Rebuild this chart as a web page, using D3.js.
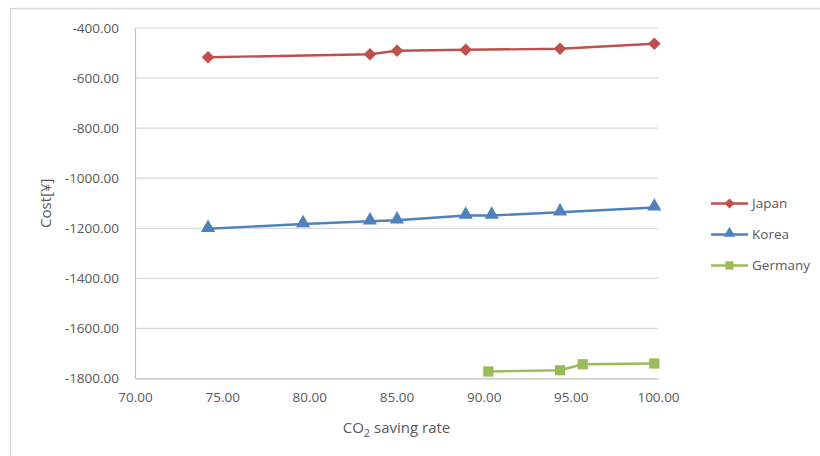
<!DOCTYPE html>
<html>
<head>
<meta charset="utf-8">
<script src="https://cdn.jsdelivr.net/npm/d3@7"></script>
<style>
  html, body { margin: 0; padding: 0; background: #fff; }
  svg { display: block; }
  text { font-family: "Open Sans", "Noto Sans", sans-serif; fill: #595959; }
</style>
</head>
<body>
<svg id="chart" width="820" height="456"></svg>
<script>
// CO2 saving rate (%) and cost for each country
const japanX  = [74.19, 83.48, 85.03, 88.97, 94.38, 99.79];
const japanY  = [-517, -505, -491, -487, -483, -463];

const koreaX  = [74.19, 79.64, 83.48, 85.03, 88.97, 90.46, 94.38, 99.79];
const koreaY  = [-1202, -1183, -1172, -1168, -1149, -1149, -1136, -1117];

const germanyX = [90.27, 94.38, 95.68, 99.79];
const germanyY = [-1772, -1767, -1743, -1740];

const seriesNames = ["Japan", "Korea", "Germany"];
const xTicks = [70, 75, 80, 85, 90, 95, 100];
const yTicks = [-400, -600, -800, -1000, -1200, -1400, -1600, -1800];

const svg = d3.select("#chart");
const colors = { Japan: "#C0504D", Korea: "#4F81BD", Germany: "#9BBB59" };
const fmt = v => d3.format(".2f")(v).replace("\u2212", "-");

// chart frame
svg.append("rect")
  .attr("x", 10.5).attr("y", 8.5)
  .attr("width", 900).attr("height", 600)
  .attr("fill", "none").attr("stroke", "#d9d9d9").attr("stroke-width", 1.5);

const plot = { left: 135, right: 658, top: 28, bottom: 378.5 };

const x = d3.scaleLinear().domain([70, 100]).range([plot.left, plot.right]);
const y = d3.scaleLinear().domain([-1800, -400]).range([plot.bottom, plot.top]);

// horizontal gridlines
svg.append("g")
  .selectAll("line")
  .data(yTicks)
  .join("line")
  .attr("x1", plot.left).attr("x2", plot.right)
  .attr("y1", d => y(d)).attr("y2", d => y(d))
  .attr("stroke", "#d9d9d9").attr("stroke-width", 1.2);

// y axis
const yAxis = svg.append("g")
  .attr("transform", `translate(${plot.left},0)`)
  .call(d3.axisLeft(y).tickValues(yTicks).tickFormat(fmt).tickSize(0).tickPadding(16));
yAxis.select(".domain").attr("stroke", "#bfbfbf").attr("stroke-width", 1.2);
yAxis.selectAll("text").style("font-size", "13.5px").attr("fill", "#595959")
  .style("font-family", '"Open Sans", "Noto Sans", sans-serif');

// x axis
const xAxis = svg.append("g")
  .attr("transform", `translate(0,${plot.bottom})`)
  .call(d3.axisBottom(x).tickValues(xTicks).tickFormat(fmt).tickSize(0).tickPadding(14));
xAxis.select(".domain").attr("stroke", "#bfbfbf").attr("stroke-width", 1.2);
xAxis.selectAll("text").style("font-size", "13.5px").attr("fill", "#595959")
  .style("font-family", '"Open Sans", "Noto Sans", sans-serif');

// axis titles
svg.append("text")
  .attr("transform", `translate(51,${(plot.top + plot.bottom) / 2}) rotate(-90)`)
  .attr("text-anchor", "middle")
  .style("font-size", "15px")
  .text("Cost[¥]");

const xt = svg.append("text")
  .attr("x", (plot.left + plot.right) / 2)
  .attr("y", 433)
  .attr("text-anchor", "middle")
  .style("font-size", "15px");
xt.append("tspan").text("CO");
xt.append("tspan").attr("dy", 4).style("font-size", "11px").text("2");
xt.append("tspan").attr("dy", -4).text(" saving rate");

// series
const series = [
  { name: "Japan", xs: japanX, ys: japanY, shape: d3.symbolSquare, size: 80, rot: 45, dy: 0 },
  { name: "Korea", xs: koreaX, ys: koreaY, shape: d3.symbolTriangle, size: 88, rot: 0, dy: -1 },
  { name: "Germany", xs: germanyX, ys: germanyY, shape: d3.symbolSquare, size: 105, rot: 0, dy: 0 }
];

const line = d3.line().x(d => x(d[0])).y(d => y(d[1]));

series.forEach(s => {
  const pts = s.xs.map((v, i) => [v, s.ys[i]]);
  const g = svg.append("g");
  g.append("path")
    .datum(pts)
    .attr("d", line)
    .attr("fill", "none")
    .attr("stroke", colors[s.name])
    .attr("stroke-width", 2.4);
  g.selectAll("path.m")
    .data(pts)
    .join("path")
    .attr("class", "m")
    .attr("transform", d => `translate(${x(d[0])},${y(d[1]) + s.dy}) rotate(${s.rot})`)
    .attr("d", d3.symbol().type(s.shape).size(s.size))
    .attr("fill", colors[s.name]);
});

// legend
const legend = svg.append("g");
series.forEach((s, i) => {
  const ly = 203.5 + i * 31;
  legend.append("line")
    .attr("x1", 711).attr("x2", 748)
    .attr("y1", ly).attr("y2", ly)
    .attr("stroke", colors[s.name]).attr("stroke-width", 2.4);
  legend.append("path")
    .attr("transform", `translate(729.5,${ly + s.dy}) rotate(${s.rot})`)
    .attr("d", d3.symbol().type(s.shape).size(s.size * 0.65))
    .attr("fill", colors[s.name]);
  legend.append("text")
    .attr("x", 752).attr("y", ly)
    .attr("dy", "0.35em")
    .style("font-size", "13.5px")
    .text(s.name);
});
</script>
</body>
</html>
